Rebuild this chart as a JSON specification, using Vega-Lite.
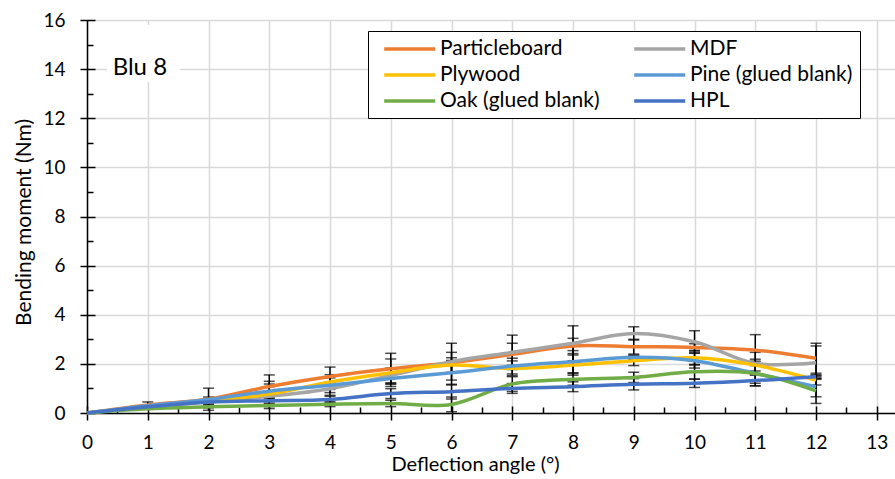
{
  "$schema": "https://vega.github.io/schema/vega-lite/v6.json",
  "width": 808,
  "height": 393,
  "autosize": "none",
  "padding": {"left": 87, "top": 20, "right": 0, "bottom": 66},
  "background": "white",
  "config": {
    "view": {"stroke": null},
    "font": "Lato",
    "legend": {
      "orient": "none",
      "legendX": 281,
      "legendY": 11,
      "columns": 2,
      "direction": "horizontal",
      "title": null,
      "symbolType": "M-0.2,0H5.47",
      "symbolSize": 324,
      "symbolStrokeWidth": 3.5,
      "labelFontSize": 21,
      "labelColor": "black",
      "labelLimit": 400,
      "labelOffset": 43,
      "rowPadding": 5,
      "columnPadding": 25,
      "padding": 7,
      "strokeColor": "black",
      "fillColor": "white"
    }
  },
  "data": {"values": [
    {"series": "Particleboard", "x": 0, "m": 0, "e": 0},
    {"series": "Particleboard", "x": 1, "m": 0.33, "e": 0.12},
    {"series": "Particleboard", "x": 2, "m": 0.56, "e": 0.45},
    {"series": "Particleboard", "x": 3, "m": 1.08, "e": 0.47},
    {"series": "Particleboard", "x": 4, "m": 1.49, "e": 0.38},
    {"series": "Particleboard", "x": 5, "m": 1.8, "e": 0.63},
    {"series": "Particleboard", "x": 6, "m": 2.05, "e": 0.42},
    {"series": "Particleboard", "x": 7, "m": 2.39, "e": 0.45},
    {"series": "Particleboard", "x": 8, "m": 2.73, "e": 0.31},
    {"series": "Particleboard", "x": 9, "m": 2.7, "e": 0.3},
    {"series": "Particleboard", "x": 10, "m": 2.67, "e": 0.15},
    {"series": "Particleboard", "x": 11, "m": 2.56, "e": 0.63},
    {"series": "Particleboard", "x": 12, "m": 2.23, "e": 0.61},
    {"series": "MDF", "x": 0, "m": 0, "e": 0},
    {"series": "MDF", "x": 1, "m": 0.25, "e": 0.02},
    {"series": "MDF", "x": 2, "m": 0.45, "e": 0.1},
    {"series": "MDF", "x": 3, "m": 0.68, "e": 0.5},
    {"series": "MDF", "x": 4, "m": 0.99, "e": 0.27},
    {"series": "MDF", "x": 5, "m": 1.53, "e": 0.3},
    {"series": "MDF", "x": 6, "m": 2.09, "e": 0.75},
    {"series": "MDF", "x": 7, "m": 2.47, "e": 0.7},
    {"series": "MDF", "x": 8, "m": 2.84, "e": 0.71},
    {"series": "MDF", "x": 9, "m": 3.24, "e": 0.27},
    {"series": "MDF", "x": 10, "m": 2.9, "e": 0.45},
    {"series": "MDF", "x": 11, "m": 2.02, "e": 0.45},
    {"series": "MDF", "x": 12, "m": 2.05, "e": 0.68},
    {"series": "Plywood", "x": 0, "m": 0, "e": 0},
    {"series": "Plywood", "x": 1, "m": 0.28, "e": 0.02},
    {"series": "Plywood", "x": 2, "m": 0.5, "e": 0.08},
    {"series": "Plywood", "x": 3, "m": 0.77, "e": 0.3},
    {"series": "Plywood", "x": 4, "m": 1.26, "e": 0.3},
    {"series": "Plywood", "x": 5, "m": 1.64, "e": 0.56},
    {"series": "Plywood", "x": 6, "m": 1.95, "e": 0.3},
    {"series": "Plywood", "x": 7, "m": 1.82, "e": 0.3},
    {"series": "Plywood", "x": 8, "m": 1.95, "e": 0.41},
    {"series": "Plywood", "x": 9, "m": 2.13, "e": 0.2},
    {"series": "Plywood", "x": 10, "m": 2.25, "e": 0.3},
    {"series": "Plywood", "x": 11, "m": 1.95, "e": 0.24},
    {"series": "Plywood", "x": 12, "m": 1.34, "e": 0.2},
    {"series": "Pine (glued blank)", "x": 0, "m": 0, "e": 0},
    {"series": "Pine (glued blank)", "x": 1, "m": 0.3, "e": 0.02},
    {"series": "Pine (glued blank)", "x": 2, "m": 0.55, "e": 0.1},
    {"series": "Pine (glued blank)", "x": 3, "m": 0.89, "e": 0.4},
    {"series": "Pine (glued blank)", "x": 4, "m": 1.13, "e": 0.3},
    {"series": "Pine (glued blank)", "x": 5, "m": 1.4, "e": 0.2},
    {"series": "Pine (glued blank)", "x": 6, "m": 1.64, "e": 0.5},
    {"series": "Pine (glued blank)", "x": 7, "m": 1.91, "e": 0.32},
    {"series": "Pine (glued blank)", "x": 8, "m": 2.09, "e": 0.45},
    {"series": "Pine (glued blank)", "x": 9, "m": 2.27, "e": 0.09},
    {"series": "Pine (glued blank)", "x": 10, "m": 2.13, "e": 0.3},
    {"series": "Pine (glued blank)", "x": 11, "m": 1.61, "e": 0.4},
    {"series": "Pine (glued blank)", "x": 12, "m": 1.07, "e": 0.41},
    {"series": "Oak (glued blank)", "x": 0, "m": 0, "e": 0},
    {"series": "Oak (glued blank)", "x": 1, "m": 0.17, "e": 0.02},
    {"series": "Oak (glued blank)", "x": 2, "m": 0.25, "e": 0.04},
    {"series": "Oak (glued blank)", "x": 3, "m": 0.31, "e": 0.05},
    {"series": "Oak (glued blank)", "x": 4, "m": 0.36, "e": 0.1},
    {"series": "Oak (glued blank)", "x": 5, "m": 0.39, "e": 0.13},
    {"series": "Oak (glued blank)", "x": 6, "m": 0.35, "e": 0.3},
    {"series": "Oak (glued blank)", "x": 7, "m": 1.18, "e": 0.3},
    {"series": "Oak (glued blank)", "x": 8, "m": 1.37, "e": 0.24},
    {"series": "Oak (glued blank)", "x": 9, "m": 1.45, "e": 0.21},
    {"series": "Oak (glued blank)", "x": 10, "m": 1.68, "e": 0.3},
    {"series": "Oak (glued blank)", "x": 11, "m": 1.61, "e": 0.5},
    {"series": "Oak (glued blank)", "x": 12, "m": 0.9, "e": 0.51},
    {"series": "HPL", "x": 0, "m": 0, "e": 0},
    {"series": "HPL", "x": 1, "m": 0.25, "e": 0.02},
    {"series": "HPL", "x": 2, "m": 0.45, "e": 0.08},
    {"series": "HPL", "x": 3, "m": 0.5, "e": 0.1},
    {"series": "HPL", "x": 4, "m": 0.55, "e": 0.13},
    {"series": "HPL", "x": 5, "m": 0.79, "e": 0.2},
    {"series": "HPL", "x": 6, "m": 0.87, "e": 0.3},
    {"series": "HPL", "x": 7, "m": 1.0, "e": 0.2},
    {"series": "HPL", "x": 8, "m": 1.07, "e": 0.2},
    {"series": "HPL", "x": 9, "m": 1.17, "e": 0.23},
    {"series": "HPL", "x": 10, "m": 1.21, "e": 0.17},
    {"series": "HPL", "x": 11, "m": 1.32, "e": 0.22},
    {"series": "HPL", "x": 12, "m": 1.48, "e": 0.07}
  ]},
  "resolve": {"axis": {"x": "independent", "y": "independent"}},
  "layer": [
    {
      "data": {"values": [{"label": "Blu 8"}]},
      "mark": {"type": "rect", "fill": "white"},
      "encoding": {
        "x": {"datum": 0.33, "type": "quantitative",
          "scale": {"domain": [0, 13.3], "nice": false, "zero": false},
          "axis": {"orient": "bottom", "values": [0,1,2,3,4,5,6,7,8,9,10,11,12,13], "grid": true, "gridColor": "#d9d9d9", "gridWidth": 1.5,
            "domainColor": "black", "domainWidth": 1.5, "tickColor": "black", "tickWidth": 1.5, "tickSize": 7,
            "labelFontSize": 19, "labelColor": "black", "labelPadding": 13, "labelFlush": false,
            "title": "Deflection angle (°)", "titleFontSize": 20, "titleFontWeight": "normal", "titleColor": "black", "titlePadding": 2, "titleX": 388}},
        "x2": {"datum": 1.53},
        "y": {"datum": 15.8, "type": "quantitative",
          "scale": {"domain": [0, 16], "nice": false},
          "axis": {"orient": "left", "values": [0,2,4,6,8,10,12,14,16], "grid": true, "gridColor": "#d9d9d9", "gridWidth": 1.5,
            "domainColor": "black", "domainWidth": 1.5, "tickColor": "black", "tickWidth": 1.5, "tickSize": 7,
            "labelFontSize": 19, "labelColor": "black", "labelPadding": 15, "labelFlush": false,
            "title": "Bending moment (Nm)", "titleFontSize": 21, "titleFontWeight": "normal", "titleColor": "black", "titlePadding": 8, "titleY": 202}},
        "y2": {"datum": 13.48}
      }
    },
    {
      "data": {"values": [{"label": "Blu 8"}]},
      "mark": {"type": "text", "fontSize": 24, "color": "black", "align": "center", "baseline": "middle"},
      "encoding": {
        "text": {"field": "label"},
        "x": {"datum": 0.87, "type": "quantitative",
          "scale": {"domain": [0, 13.3], "nice": false, "zero": false},
          "axis": {"orient": "bottom", "values": [0,1,2,3,4,5,6,7,8,9,10,11,12,13], "grid": false, "domain": false, "labels": false, "title": null,
            "tickColor": "black", "tickWidth": 1.5, "tickSize": -7}},
        "y": {"datum": 14.05, "type": "quantitative",
          "scale": {"domain": [0, 16], "nice": false},
          "axis": {"orient": "left", "values": [0,2,4,6,8,10,12,14,16], "grid": false, "domain": false, "labels": false, "title": null,
            "tickColor": "black", "tickWidth": 1.5, "tickSize": -8}}
      }
    },
    {
      "transform": [{"filter": "datum.x > 0"}],
      "mark": {"type": "errorbar", "ticks": {"size": 11, "thickness": 1.5, "color": "black"}, "rule": {"strokeWidth": 1.5, "color": "black"}, "color": "black"},
      "encoding": {
        "x": {"field": "x", "type": "quantitative", "scale": {"domain": [0, 13.3], "nice": false, "zero": false}, "axis": null},
        "y": {"field": "m", "type": "quantitative", "scale": {"domain": [0, 16], "nice": false}, "axis": null},
        "yError": {"field": "e"}
      }
    },
    {
      "mark": {"type": "line", "strokeWidth": 3.5, "interpolate": "catmull-rom"},
      "encoding": {
        "x": {"field": "x", "type": "quantitative",
          "scale": {"domain": [0, 13.3], "nice": false, "zero": false},
          "axis": {"orient": "bottom", "values": [0.5,1.5,2.5,3.5,4.5,5.5,6.5,7.5,8.5,9.5,10.5,11.5,12.5], "grid": false, "domain": false, "labels": false, "title": null,
            "tickColor": "black", "tickWidth": 1.5, "tickSize": -6}},
        "y": {"field": "m", "type": "quantitative",
          "scale": {"domain": [0, 16], "nice": false},
          "axis": {"orient": "left", "values": [1,3,5,7,9,11,13,15], "grid": false, "domain": false, "labels": false, "title": null,
            "tickColor": "black", "tickWidth": 1.5, "tickSize": -6}},
        "color": {"field": "series", "type": "nominal",
          "scale": {"domain": ["Particleboard", "MDF", "Plywood", "Pine (glued blank)", "Oak (glued blank)", "HPL"],
                    "range": ["#ED7D31", "#A5A5A5", "#FFC000", "#5B9BD5", "#70AD47", "#4472C4"]},
          "sort": null}
      }
    }
  ]
}
